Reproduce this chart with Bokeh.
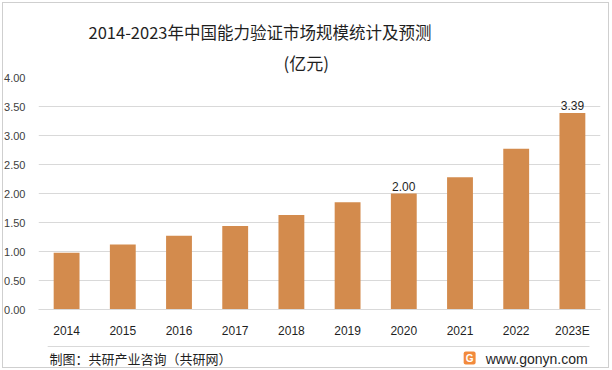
from bokeh.plotting import figure
from bokeh.layouts import column
from bokeh.core.properties import value
from bokeh.models import (ColumnDataSource, LabelSet, Label, Range1d, FixedTicker, Title,
                          BoxAnnotation, NumeralTickFormatter)
from bokeh.embed import file_html
from bokeh.resources import INLINE

years = ["2014", "2015", "2016", "2017", "2018", "2019", "2020", "2021", "2022", "2023E"]
values = [0.98, 1.12, 1.27, 1.44, 1.63, 1.85, 2.00, 2.28, 2.77, 3.39]
shown_labels = ["", "", "", "", "", "", "2.00", "", "", "3.39"]
y_ticks = [0, 0.5, 1.0, 1.5, 2.0, 2.5, 3.0, 3.5, 4.0]

title_text = "2014-2023年中国能力验证市场规模统计及预测"
subtitle_text = "(亿元)"
source_text = "制图：共研产业咨询（共研网）"
site_text = "www.gonyn.com"

W = 612
MAIN_H, FOOT_H = 340, 30
TEXT = "#1f1f1f"
GRID = "#d9d9d9"

# ---- main chart ----
p = figure(width=W, height=MAIN_H, x_range=years, y_range=Range1d(0, 4.0),
           output_backend="svg", toolbar_location=None,
           min_border_left=38, min_border_right=12, min_border_top=77, min_border_bottom=28)
p.outline_line_color = None
p.background_fill_color = "white"
p.border_fill_color = "white"

p.title = Title(text=title_text, align="left", offset=50, standoff=1.5,
                text_font_size="16.5px", text_font="Noto Sans CJK SC",
                text_font_style="normal", text_color=TEXT)
p.add_layout(Title(text=subtitle_text, align="left", offset=245, standoff=5.5,
                   text_font_size="17px", text_font="Noto Sans CJK SC",
                   text_font_style="normal", text_color=TEXT), "above")

src = ColumnDataSource(dict(x=years, top=values, lab=shown_labels))
p.vbar(x="x", top="top", width=0.46, source=src, fill_color="#D38B4D", line_color=None)

p.add_layout(LabelSet(x="x", y="top", text="lab", source=src, text_align="center",
                      text_baseline="bottom", y_offset=3, text_font_size="12px",
                      text_color=TEXT, text_font=value("Liberation Sans")))

p.yaxis.ticker = FixedTicker(ticks=y_ticks)
p.yaxis.formatter = NumeralTickFormatter(format="0.00")
p.yaxis.axis_line_color = None
p.yaxis.major_tick_line_color = None
p.yaxis.minor_tick_line_color = None
p.yaxis.major_label_text_font_size = "11px"
p.yaxis.major_label_text_color = "#404040"
p.yaxis.major_label_text_font = "Liberation Sans"
p.yaxis.major_label_standoff = 7

p.xaxis.axis_line_color = GRID
p.xaxis.major_tick_line_color = None
p.xaxis.minor_tick_line_color = None
p.xaxis.major_label_text_font_size = "12px"
p.xaxis.major_label_text_color = TEXT
p.xaxis.major_label_text_font = "Liberation Sans"
p.xaxis.major_label_standoff = 8

p.xgrid.grid_line_color = None
p.ygrid.grid_line_color = GRID

# ---- footer strip ----
foot = figure(width=W, height=FOOT_H, x_range=Range1d(0, W), y_range=Range1d(FOOT_H, 0),
              output_backend="svg", toolbar_location=None,
              min_border=0, min_border_left=0, min_border_right=0,
              min_border_top=0, min_border_bottom=0)
foot.axis.visible = False
foot.grid.visible = False
foot.outline_line_color = None
foot.background_fill_color = "white"
foot.border_fill_color = "white"

foot.add_layout(BoxAnnotation(left=10, right=600, top=5.5, bottom=6.5, fill_color=GRID,
                              fill_alpha=1, line_color=None))
foot.add_layout(Label(x=12, y=18, text=source_text, text_align="left", text_baseline="middle",
                      text_font_size="13px", text_font="Noto Sans CJK SC", text_color=TEXT))
foot.add_layout(BoxAnnotation(left=463, right=476, top=11, bottom=24, fill_color="#F28A3C",
                              fill_alpha=1, line_color=None, border_radius=2))
foot.add_layout(Label(x=469.5, y=18, text="G", text_align="center", text_baseline="middle",
                      text_font_size="10px", text_font_style="bold", text_font="Liberation Sans",
                      text_color="white"))
foot.add_layout(Label(x=487, y=18, text=site_text, text_align="left", text_baseline="middle",
                      text_font_size="14px", text_font="Liberation Sans", text_color=TEXT))

frame_css = (":host { position: relative; }"
             ":host::after { content: ''; position: absolute; left: 2px; top: 2px; right: 3px;"
             " bottom: 2px; border: 1px solid #cfcfcf; pointer-events: none; z-index: 50; }")
layout = column(p, foot, spacing=0, stylesheets=[frame_css])

open("out.html", "w").write(file_html(layout, INLINE))
